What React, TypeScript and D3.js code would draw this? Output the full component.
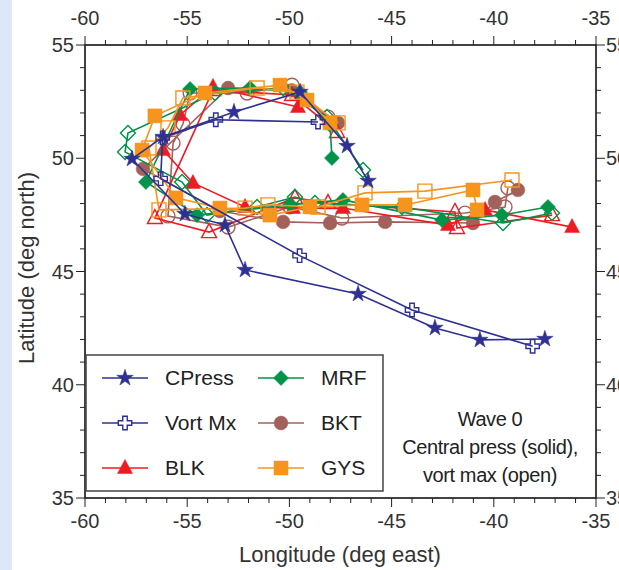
import React from "react";
import * as d3 from "d3";

type P = [number, number];

// Observed
const cpress: P[] = [
  [-46.15, 49.0], [-47.18, 50.54], [-49.48, 52.93], [-52.71, 52.04], [-56.18, 50.94],
  [-57.7, 49.97], [-55.11, 47.54], [-53.15, 47.05], [-52.17, 45.07], [-46.64, 44.01],
  [-42.88, 42.51], [-40.68, 41.98], [-37.5, 42.02],
];
const vortMx: P[] = [
  [-48.6, 51.6], [-53.6, 51.7], [-56.2, 50.9], [-56.3, 49.1], [-49.5, 45.7], [-44.0, 43.3], [-38.1, 41.7],
];
// BLK
const blkSolid: P[] = [
  [-49.58, 52.26], [-53.74, 53.15], [-55.35, 51.91], [-56.18, 50.36], [-54.72, 48.91],
  [-52.17, 47.85], [-49.82, 47.8], [-47.38, 47.8], [-42.24, 47.05], [-40.43, 47.72], [-36.17, 46.96],
];
const blkOpen: P[] = [
  [-47.67, 51.16], [-49.87, 52.79], [-53.74, 53.01], [-56.58, 47.36], [-53.93, 46.74],
  [-49.73, 48.25], [-48.11, 48.02], [-41.9, 47.63], [-41.8, 46.92], [-37.15, 47.49],
];
// MRF
const mrfSolid: P[] = [
  [-47.92, 50.01], [-48.01, 51.47], [-49.48, 52.92], [-51.93, 53.1], [-54.86, 53.06],
  [-57.02, 48.95], [-54.52, 47.49], [-49.97, 47.94], [-47.38, 48.16], [-42.53, 47.27],
  [-39.6, 47.49], [-37.35, 47.85],
];
const mrfOpen: P[] = [
  [-46.4, 49.48], [-48.16, 51.82], [-50.31, 53.1], [-53.64, 52.88], [-57.9, 51.11],
  [-58.04, 50.28], [-55.25, 48.95], [-54.03, 47.49], [-51.58, 47.85], [-49.73, 48.29],
  [-48.75, 48.02], [-44.49, 47.85], [-39.55, 47.14], [-37.15, 47.58],
];
// BKT
const bktSolid: P[] = [
  [-47.62, 51.56], [-49.9, 53.0], [-53.0, 53.1], [-57.16, 49.53], [-53.4, 47.67],
  [-50.31, 47.19], [-48.01, 47.14], [-45.32, 47.19], [-41.02, 47.14], [-39.94, 48.07], [-38.82, 48.6],
];
const bktOpen: P[] = [
  [-48.11, 51.82], [-49.87, 53.23], [-52.07, 52.88], [-54.86, 52.88], [-55.21, 51.51],
  [-55.69, 50.67], [-55.94, 47.45], [-53.0, 46.96], [-49.97, 47.85], [-47.43, 47.36],
  [-41.41, 47.58], [-39.45, 47.85], [-39.31, 48.69],
];
// GYS
const gysSolid: P[] = [
  [-48.01, 51.56], [-49.14, 52.57], [-50.46, 53.23], [-54.13, 52.88], [-56.58, 51.87],
  [-57.21, 50.36], [-55.55, 48.25], [-53.4, 47.8], [-50.95, 47.49], [-48.99, 47.85],
  [-46.45, 47.94], [-44.34, 47.94], [-41.02, 48.6], [-40.82, 47.72],
];
const gysOpen: P[] = [
  [-47.62, 51.56], [-49.63, 52.92], [-51.58, 53.1], [-55.21, 52.66], [-55.94, 51.34],
  [-56.87, 50.45], [-56.38, 47.72], [-52.17, 47.8], [-51.05, 47.94], [-48.6, 47.85],
  [-46.3, 48.47], [-43.37, 48.55], [-39.11, 49.04],
];

const xTicks = [-60, -55, -50, -45, -40, -35];
const yTicks = [35, 40, 45, 50, 55];
const legendNames = ["CPress", "Vort Mx", "BLK", "MRF", "BKT", "GYS"];
const annotation = ["Wave 0", "Central press (solid),", "vort max (open)"];

const NAVY = "#2e3192";
const RED = "#ed1c24";
const GREEN = "#00934a";
const BROWN = "#a3615c";
const ORANGE = "#f7941d";
const FONT = "'Liberation Sans', Arial, sans-serif";

type Shape = "star" | "cross" | "tri" | "diamond" | "circle" | "square";

function shapePath(shape: Shape): string {
  switch (shape) {
    case "star": return d3.symbol(d3.symbolStar, 85)()!;
    case "cross": return d3.symbol(d3.symbolCross, 100)()!;
    case "tri": return "M0,-8.5L7.5,5.5L-7.5,5.5Z";
    case "diamond": return "M0,-7.5L7.5,0L0,7.5L-7.5,0Z";
    case "circle": return d3.symbol(d3.symbolCircle, 150)()!;
    case "square": return "M-7,-7H7V7H-7Z";
  }
}

interface Series { data: P[]; color: string; shape: Shape; open: boolean; }

const series: Series[] = [
  { data: bktOpen, color: BROWN, shape: "circle", open: true },
  { data: bktSolid, color: BROWN, shape: "circle", open: false },
  { data: blkOpen, color: RED, shape: "tri", open: true },
  { data: blkSolid, color: RED, shape: "tri", open: false },
  { data: mrfOpen, color: GREEN, shape: "diamond", open: true },
  { data: mrfSolid, color: GREEN, shape: "diamond", open: false },
  { data: gysOpen, color: ORANGE, shape: "square", open: true },
  { data: gysSolid, color: ORANGE, shape: "square", open: false },
  { data: vortMx, color: NAVY, shape: "cross", open: true },
  { data: cpress, color: NAVY, shape: "star", open: false },
];

const legendItems: { color: string; shape: Shape; open: boolean }[] = [
  { color: NAVY, shape: "star", open: false },
  { color: NAVY, shape: "cross", open: true },
  { color: RED, shape: "tri", open: false },
  { color: GREEN, shape: "diamond", open: false },
  { color: BROWN, shape: "circle", open: false },
  { color: ORANGE, shape: "square", open: false },
];

export default function App() {
  const W = 619, H = 570;
  const x = d3.scaleLinear().domain([-60, -35]).range([85, 596]);
  const y = d3.scaleLinear().domain([35, 55]).range([498, 45]);
  const line = d3.line<P>().x((d) => x(d[0])).y((d) => y(d[1]));
  const minorX = d3.range(-60, -34, 1);
  const minorY = d3.range(35, 56, 1);
  const axisColor = "#222";
  const textColor = "#333";

  return (
    <svg width={W} height={H} style={{ position: "absolute", left: 0, top: 0, background: "#fff" }} fontFamily={FONT}>
      <rect x={0} y={0} width={12} height={H} fill="#dce8f8" />
      {series.map((s, i) => (
        <g key={i}>
          <path d={line(s.data)!} fill="none" stroke={s.color} strokeWidth={1.6} />
          {s.data.map((d, j) => (
            <path
              key={j}
              d={shapePath(s.shape)}
              transform={`translate(${x(d[0])},${y(d[1])})`}
              fill={s.open ? "none" : s.color}
              stroke={s.color}
              strokeWidth={s.open ? 1.4 : 0.5}
            />
          ))}
        </g>
      ))}
      <rect x={85} y={45} width={511} height={453} fill="none" stroke={axisColor} strokeWidth={1.7} />
      {minorX.map((v) => (
        <g key={"mx" + v} stroke={axisColor} strokeWidth={1}>
          <line x1={x(v)} x2={x(v)} y1={498} y2={v % 5 === 0 ? 507 : 503} />
          <line x1={x(v)} x2={x(v)} y1={45} y2={v % 5 === 0 ? 36 : 40} />
        </g>
      ))}
      {minorY.map((v) => (
        <g key={"my" + v} stroke={axisColor} strokeWidth={1}>
          <line x1={85} x2={v % 5 === 0 ? 76 : 80} y1={y(v)} y2={y(v)} />
          <line x1={596} x2={v % 5 === 0 ? 605 : 601} y1={y(v)} y2={y(v)} />
        </g>
      ))}
      {xTicks.map((v) => (
        <g key={"xt" + v} fontSize={20} fill={textColor} textAnchor="middle">
          <text x={x(v)} y={528}>{v}</text>
          <text x={x(v)} y={25}>{v}</text>
        </g>
      ))}
      {yTicks.map((v) => (
        <g key={"yt" + v} fontSize={20} fill={textColor}>
          <text x={74} y={y(v) + 7} textAnchor="end">{v}</text>
          <text x={606} y={y(v) + 7}>{v}</text>
        </g>
      ))}
      <text x={340} y={562} fontSize={22} fill={textColor} textAnchor="middle">Longitude (deg east)</text>
      <text transform={`translate(34,268) rotate(-90)`} fontSize={22} fill={textColor} textAnchor="middle">Latitude (deg north)</text>
      <rect x={86} y={355} width={297} height={136} fill="#fff" stroke="#444" strokeWidth={1.5} />
      {legendNames.map((name, i) => {
        const col = Math.floor(i / 3);
        const row = i % 3;
        const lx = col === 0 ? 102 : 258;
        const ly = 378 + row * 45;
        const it = legendItems[i];
        return (
          <g key={name}>
            <line x1={lx} x2={lx + 46} y1={ly} y2={ly} stroke={it.color} strokeWidth={1.6} />
            <path d={shapePath(it.shape)} transform={`translate(${lx + 23},${ly})`}
              fill={it.open ? "#fff" : it.color} stroke={it.color} strokeWidth={it.open ? 1.4 : 0.5} />
            <text x={lx + 63} y={ly + 7} fontSize={21} fill="#222">{name}</text>
          </g>
        );
      })}
      {annotation.map((t, i) => (
        <text key={i} x={490} y={426 + i * 28} fontSize={20} letterSpacing={-0.4} fill="#222" textAnchor="middle">{t}</text>
      ))}
    </svg>
  );
}
